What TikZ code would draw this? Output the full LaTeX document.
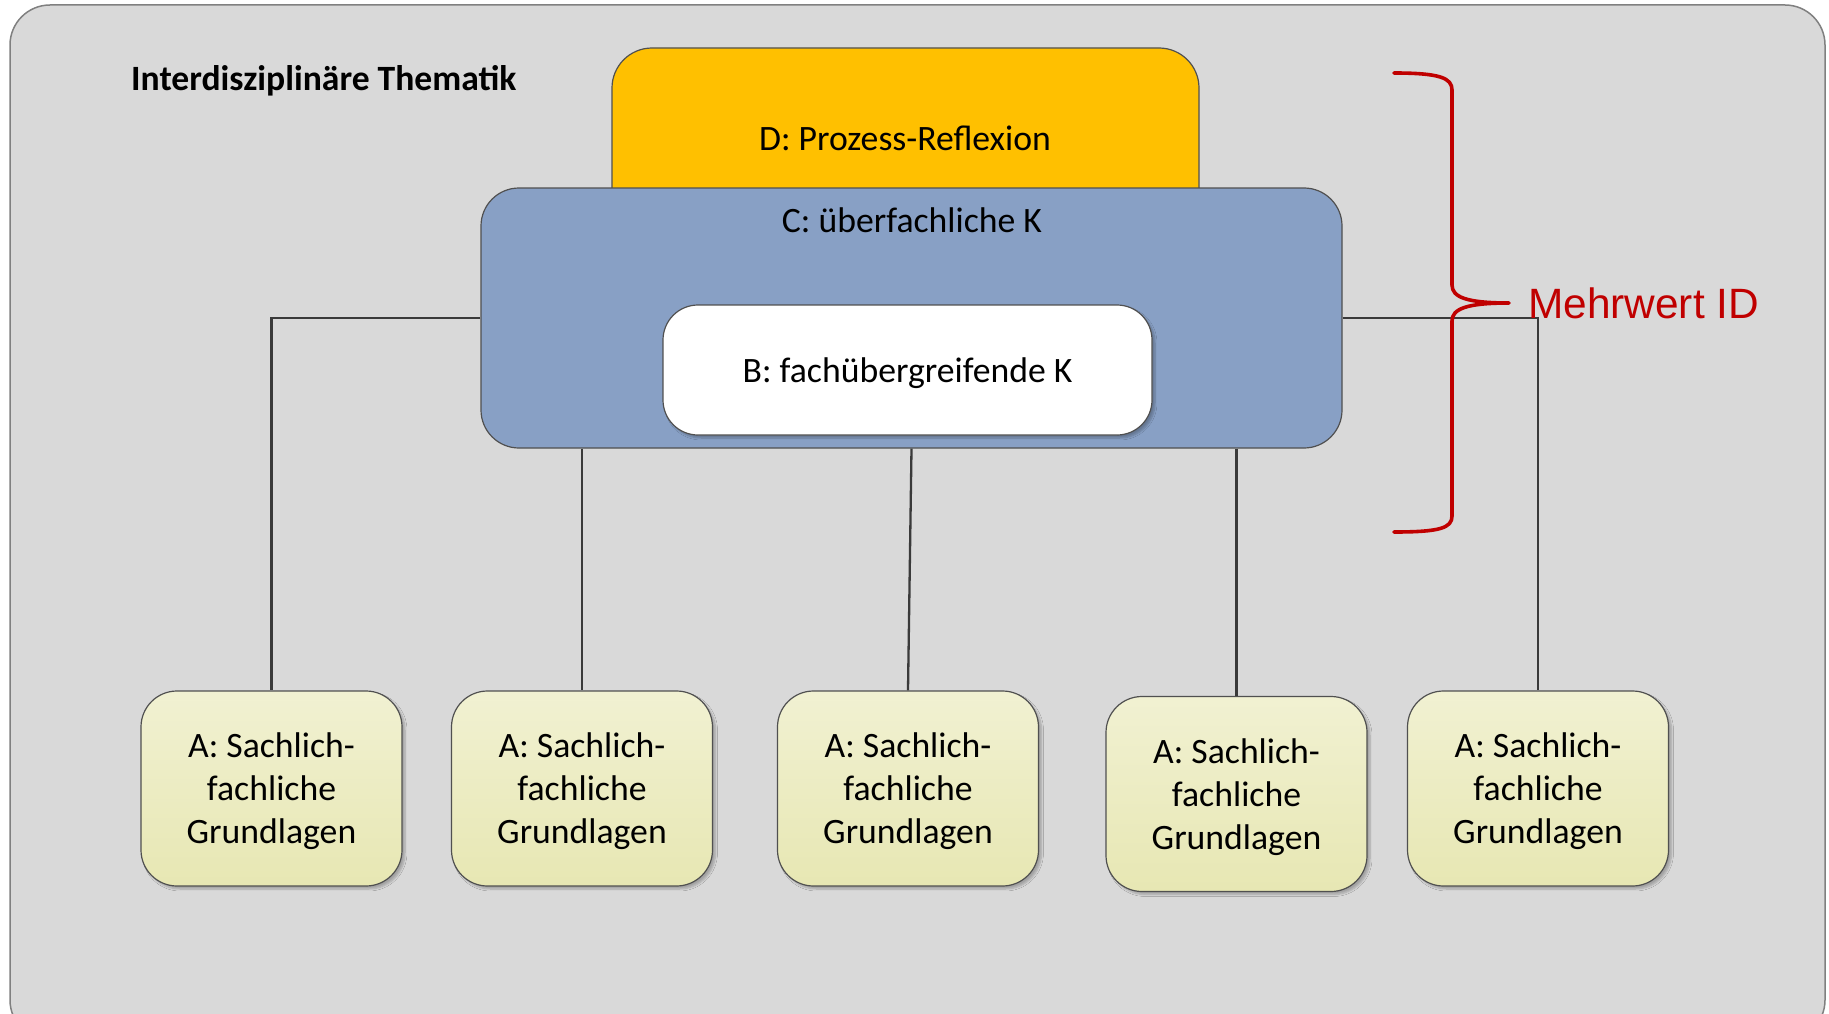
\documentclass[tikz,border=0pt]{standalone}
\usepackage{fontspec}
\setmainfont{Carlito}
\newfontfamily\arialfont{Liberation Sans}
\usetikzlibrary{shadows.blur}

\definecolor{panelgray}{HTML}{D9D9D9}
\definecolor{panelline}{HTML}{808080}
\definecolor{boxline}{HTML}{505050}
\definecolor{linkgray}{HTML}{3A3A3A}
\definecolor{reflexgold}{HTML}{FFC000}
\definecolor{kompblue}{HTML}{88A0C5}
\definecolor{basetop}{HTML}{F1F1D2}
\definecolor{basebottom}{HTML}{E7E7B3}
\definecolor{accentred}{HTML}{C00000}

\newcommand\boxfont{\fontsize{35.7}{43}\selectfont}
\newcommand\titlefont{\fontsize{35.6}{43}\selectfont\bfseries}
\newcommand\bracefont{\arialfont\fontsize{42.4}{50}\selectfont}

\begin{document}
\begin{tikzpicture}[x=1pt,y=-1pt,
  basebox/.style={draw=boxline, line width=1.2pt, inner sep=0pt, align=center, font=\boxfont},
  softshadow/.style={blur shadow={shadow xshift=3pt, shadow yshift=-3pt,
      shadow blur steps=6, shadow blur extra rounding=2pt, shadow opacity=25}},
  abox/.style={basebox, rounded corners=36pt, top color=basetop, bottom color=basebottom,
      minimum width=261pt, minimum height=195pt, text depth=0pt, softshadow},
  link/.style={draw=linkgray, line width=2.3pt},
  bracestroke/.style={draw=accentred, line width=3.6pt, line cap=round, line join=round}
]
\useasboundingbox (0,0) rectangle (1829,1014);
\clip (0,0) rectangle (1829,1014);

% panel
\draw[fill=panelgray, draw=panelline, line width=1.5pt, rounded corners=40pt]
  (10,5) rectangle (1825,1040);

% boxes of the hierarchy
\node[basebox, fill=reflexgold, rounded corners=40pt,
      minimum width=587pt, minimum height=202pt] (D) at (905.5,149) {};
\node[font=\boxfont, anchor=base] (dtext) at (905,151) {D: Prozess-Reflexion};

\node[basebox, fill=kompblue, rounded corners=38pt,
      minimum width=861pt, minimum height=260pt] (C) at (911.5,318) {};
\node[font=\boxfont, anchor=base] (ctext) at (912,232) {C: überfachliche K};

\node[basebox, fill=white, rounded corners=35pt, softshadow, text depth=0pt,
      minimum width=489pt, minimum height=130pt] (B) at (907.5,370) {B: fachübergreifende K};

\node[abox] (A1) at (271.5,788.5) {A: Sachlich-\\fachliche\\Grundlagen};
\node[abox] (A2) at (582,788.5)   {A: Sachlich-\\fachliche\\Grundlagen};
\node[abox] (A3) at (908,788.5)   {A: Sachlich-\\fachliche\\Grundlagen};
\node[abox] (A4) at (1236.5,794)  {A: Sachlich-\\fachliche\\Grundlagen};
\node[abox] (A5) at (1538,788.5)  {A: Sachlich-\\fachliche\\Grundlagen};

% connectors
\draw[link] (C.west) -| (A1.north);
\draw[link] (A2.north |- C.south) -- (A2.north);
\draw[link] (C.south) -- (A3.north);
\draw[link] (A4.north |- C.south) -- (A4.north);
\draw[link] (C.east) -| (A5.north);

% brace with its label
\coordinate (braceTop) at (1394,73);
\coordinate (braceTip) at (1509,303);
\coordinate (braceBottom) at (1394,532);
\draw[bracestroke] (braceTop) .. controls (1440,73) and (1452,78) .. (1452,90)
  -- (1452,285) .. controls (1452,297) and (1466,303) .. (braceTip)
  .. controls (1466,303) and (1452,309) .. (1452,321)
  -- (1452,516) .. controls (1452,528) and (1440,532) .. (braceBottom);
\node[font=\bracefont, text=accentred, anchor=base west, inner sep=0pt] (mehrwert)
  at (1528,318) {Mehrwert ID};

% title
\node[font=\titlefont, anchor=base west, inner sep=0pt] (title) at (131,91)
  {Interdisziplinäre Thematik};
\end{tikzpicture}
\end{document}
